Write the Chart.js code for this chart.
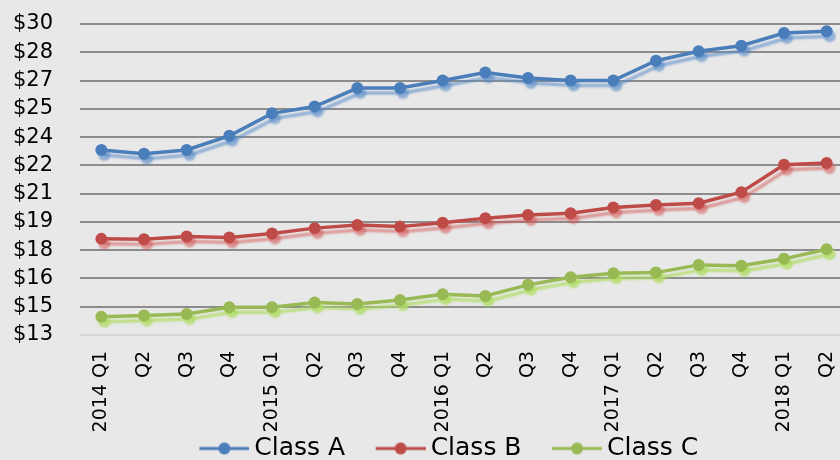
<!DOCTYPE html>
<html>
<head>
<meta charset="utf-8">
<script src="https://cdn.jsdelivr.net/npm/chart.js@4.4.1/dist/chart.umd.min.js"></script>
<style>
  html, body { margin: 0; padding: 0; background: #e8e8e8; overflow: hidden; }
  #wrap { position: relative; width: 872px; height: 471px; }
</style>
</head>
<body>
<div id="wrap"><canvas id="rents"></canvas></div>
<script>
// quarters on the x axis
const quarters = [
  '2014 Q1', 'Q2', 'Q3', 'Q4',
  '2015 Q1', 'Q2', 'Q3', 'Q4',
  '2016 Q1', 'Q2', 'Q3', 'Q4',
  '2017 Q1', 'Q2', 'Q3', 'Q4',
  '2018 Q1', 'Q2',
];
const seriesNames = ['Class A', 'Class B', 'Class C'];

// asking rents, $ per sq ft
const classA = [22.82, 22.61, 22.82, 23.57, 24.76, 25.12, 26.10, 26.10, 26.50,
  26.93, 26.63, 26.50, 26.50, 27.55, 28.05, 28.35, 29.02, 29.11];
const classB = [18.10, 18.08, 18.22, 18.17, 18.38, 18.67, 18.84, 18.75, 18.96,
  19.20, 19.37, 19.46, 19.76, 19.90, 19.99, 20.58, 22.03, 22.12];
const classC = [13.97, 14.03, 14.12, 14.47, 14.47, 14.72, 14.65, 14.86, 15.16,
  15.07, 15.66, 16.06, 16.28, 16.31, 16.72, 16.68, 17.04, 17.55];

// y axis runs 13 .. 29.5 in steps of 1.5, labels rounded to whole dollars
const yMin = 13;
const yMax = 29.5;
const yStep = 1.5;

const colors = ['#4a7ebb', '#be4b48', '#98b954'];
const shadows = ['rgba(90,140,200,0.6)', 'rgba(210,90,88,0.55)', 'rgba(175,220,100,0.75)'];

// "line with a dot" sample for the legend; blank strip on the left
// so the sample sits close to its text
function legendMark(color) {
  const c = document.createElement('canvas');
  c.width = 83;
  c.height = 14;
  const g = c.getContext('2d');
  g.strokeStyle = color;
  g.lineWidth = 3;
  g.beginPath();
  g.moveTo(33, 7);
  g.lineTo(83, 7);
  g.stroke();
  g.fillStyle = color;
  g.beginPath();
  g.arc(58, 7, 6, 0, Math.PI * 2);
  g.fill();
  return c;
}

const shadowPlugin = {
  id: 'shadow',
  beforeDatasetDraw(chart, args) {
    const ctx = chart.ctx;
    ctx.save();
    ctx.shadowColor = shadows[args.index];
    ctx.shadowBlur = 2;
    ctx.shadowOffsetX = 3;
    ctx.shadowOffsetY = 5;
  },
  afterDatasetDraw(chart) {
    chart.ctx.restore();
  },
};

const font = 'DejaVu Sans';

new Chart(document.getElementById('rents'), {
  type: 'line',
  data: {
    labels: quarters,
    datasets: [classA, classB, classC].map((vals, i) => ({
      label: seriesNames[i],
      data: vals,
      borderColor: colors[i],
      backgroundColor: colors[i],
      borderWidth: 3.5,
      pointRadius: 6,
      pointBorderWidth: 0,
      pointStyle: 'circle',
      tension: 0,
    })),
  },
  plugins: [shadowPlugin],
  options: {
    responsive: true,
    maintainAspectRatio: false,
    animation: false,
    layout: { padding: { top: 24, left: 0, right: 0, bottom: 0 } },
    scales: {
      x: {
        offset: true,
        grid: { display: false, drawTicks: false },
        border: { display: false },
        ticks: {
          color: '#000',
          font: { family: font, size: 19 },
          minRotation: 90,
          maxRotation: 90,
          autoSkip: false,
          padding: 16,
        },
        afterFit: (s) => { s.height = 96; },
      },
      y: {
        min: yMin,
        max: yMax,
        grid: {
          drawTicks: false,
          lineWidth: 2,
          color: (c) => (c.tick && c.tick.value === yMin ? '#d6d6d6' : '#8c8c8c'),
        },
        border: { display: false },
        ticks: {
          stepSize: yStep,
          autoSkip: false,
          color: '#000',
          font: { family: font, size: 21 },
          padding: 27,
          callback: (v) => '$' + Math.round(v),
        },
        afterFit: (s) => {
          s.width = 80;
          s.paddingTop = 0;
          s.paddingBottom = 0;
        },
      },
      pad: {
        position: 'right',
        display: true,
        grid: { display: false },
        border: { display: false },
        ticks: { display: false },
        afterFit: (s) => {
          s.width = 24;
          s.paddingTop = 0;
          s.paddingBottom = 0;
        },
      },
    },
    plugins: {
      legend: {
        position: 'bottom',
        labels: {
          color: '#000',
          font: { family: font, size: 25 },
          usePointStyle: true,
          pointStyleWidth: 68,
          boxHeight: 24,
          padding: 5,
          generateLabels: (chart) => chart.data.datasets.map((ds, i) => ({
            text: ds.label,
            pointStyle: legendMark(colors[i]),
            fillStyle: colors[i],
            strokeStyle: colors[i],
            lineWidth: 0,
            datasetIndex: i,
            fontColor: '#000',
          })),
        },
      },
      tooltip: { enabled: false },
    },
  },
});
</script>
</body>
</html>
